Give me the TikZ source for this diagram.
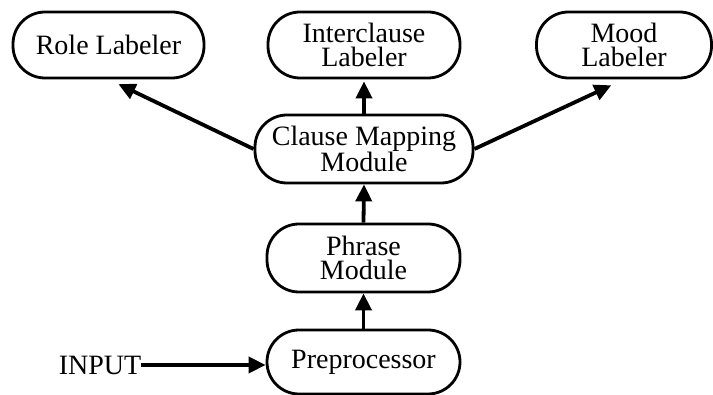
\documentclass[tikz,border=0pt]{standalone}
\usepackage{fontspec}
\setmainfont{Liberation Serif}
\usepackage{tikz}
\usetikzlibrary{arrows.meta}
\tikzset{
  box/.style={draw=black, line width=2.8pt, rounded corners=32pt, inner sep=0pt,
    minimum height=66pt, align=center, font=\fontsize{28}{24}\selectfont},
  arr/.style={draw=black, line width=3.8pt, -{Triangle[length=17pt,width=16pt]}},
  lbl/.style={text=black, inner sep=0pt, font=\fontsize{28}{24}\selectfont}
}
\begin{document}
\begin{tikzpicture}[x=1pt,y=1pt]
  \useasboundingbox (0,0) rectangle (713,395);

  \node[box, minimum width=191pt] (role) at (108.5,350) {Role Labeler};
  \node[box, minimum width=192pt] (inter) at (364,350) {Interclause\\Labeler};
  \node[box, minimum width=175pt] (mood) at (624,350) {Mood\\Labeler};
  \node[box, minimum width=218pt, minimum height=68pt] (clause) at (364,246) {Clause Mapping\\Module};
  \node[box, minimum width=193pt, minimum height=68pt] (phrase) at (363.5,137) {Phrase\\Module};
  \node[box, minimum width=193pt, minimum height=64pt] (pre) at (363.5,33) {Preprocessor};
  \node[lbl] (input) at (100,30) {INPUT};

  \draw[arr, shorten >=11pt] (clause.west) -- (role.south);
  \draw[arr, shorten >=2pt] (clause.north) -- (inter.south);
  \draw[arr, shorten >=14pt] (clause.east) -- (mood.south);
  \draw[arr] (phrase.north) -- (clause.south);
  \draw[arr] (pre.north) -- (phrase.south);
  \draw[arr] (input.east) -- (input.east -| pre.west);
\end{tikzpicture}
\end{document}
